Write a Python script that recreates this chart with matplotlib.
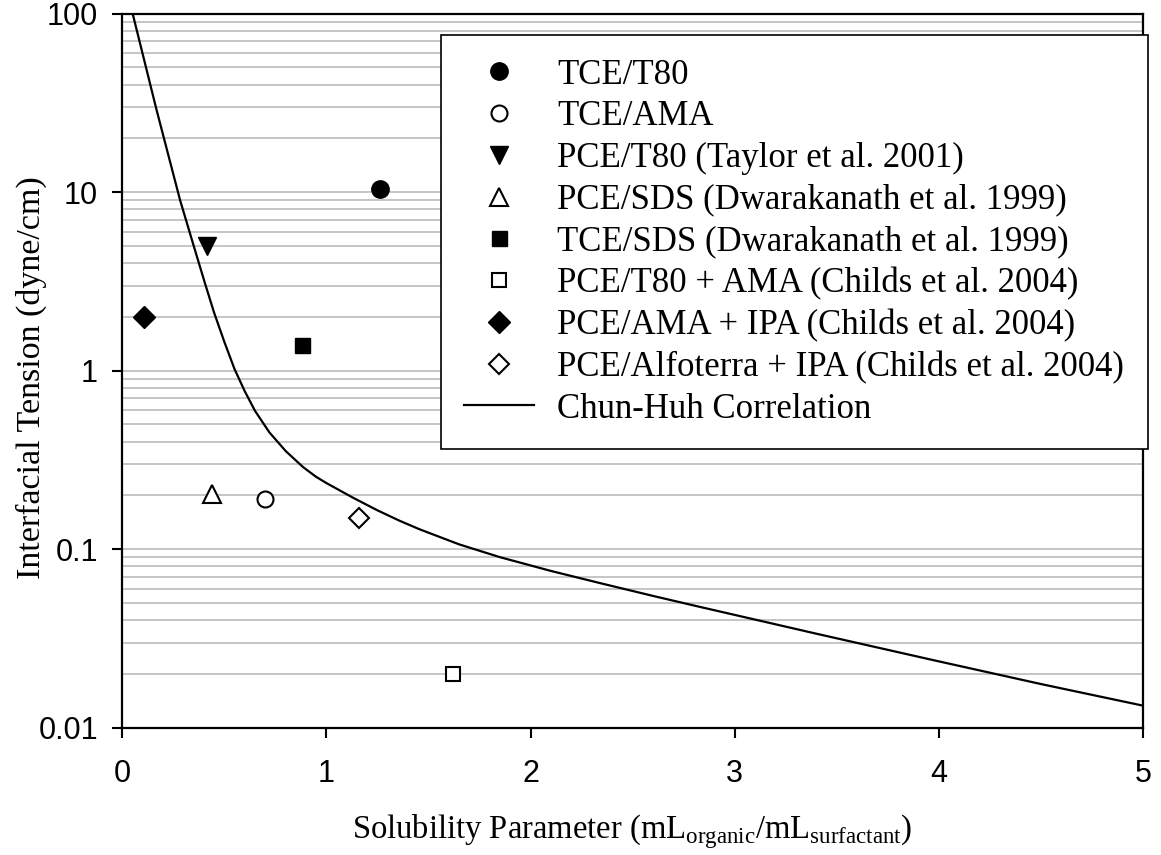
import matplotlib
matplotlib.use('Agg')
import matplotlib.pyplot as plt
from matplotlib.ticker import LogLocator, FixedLocator, FixedFormatter, NullFormatter, NullLocator

serif = 'Liberation Serif'
sans = 'Liberation Sans'

tce_t80_x, tce_t80_y = [1.26], [10.4]
tce_ama_x, tce_ama_y = [0.70], [0.19]
pce_t80_x, pce_t80_y = [0.413], [5.0]
pce_sds_x, pce_sds_y = [0.44], [0.205]
tce_sds_x, tce_sds_y = [0.88], [1.4]
pce_t80ama_x, pce_t80ama_y = [1.62], [0.02]
pce_amaipa_x, pce_amaipa_y = [0.105], [2.0]
pce_alfo_x, pce_alfo_y = [1.16], [0.15]

# Chun-Huh correlation, points
chun_x = [0.051, 0.168, 0.283, 0.35, 0.405, 0.45, 0.50, 0.55, 0.60, 0.65, 0.72,
          0.80, 0.886, 0.95, 1.0, 1.131, 1.25, 1.36, 1.458, 1.65, 1.85, 2.1, 2.339,
          2.6, 2.829, 3.4, 3.972, 4.5, 5.0]
chun_y = [100, 28.9, 9.04, 5.0, 3.09, 2.11, 1.45, 1.02, 0.767, 0.596, 0.452,
          0.355, 0.288, 0.254, 0.2346, 0.194, 0.165, 0.144, 0.129, 0.1064, 0.0902, 0.0755, 0.0646,
          0.0547, 0.0475, 0.0336, 0.0239, 0.01755, 0.01328]

labels = ['TCE/T80', 'TCE/AMA', 'PCE/T80 (Taylor et al. 2001)',
          'PCE/SDS (Dwarakanath et al. 1999)', 'TCE/SDS (Dwarakanath et al. 1999)',
          'PCE/T80 + AMA (Childs et al. 2004)', 'PCE/AMA + IPA (Childs et al. 2004)',
          'PCE/Alfoterra + IPA (Childs et al. 2004)', 'Chun-Huh Correlation']
ytick_vals = [0.01, 0.1, 1, 10, 100]
ytick_text = ['0.01', '0.1', '1', '10', '100']
xtick_vals = [0, 1, 2, 3, 4, 5]

plt.rcParams['mathtext.fontset'] = 'custom'
plt.rcParams['mathtext.rm'] = serif

fig = plt.figure(figsize=(11.61, 8.55), dpi=100)
ax = fig.add_axes([0.1053, 0.1489, 0.8794, 0.8351])

ax.plot(tce_t80_x, tce_t80_y, 'o', ms=12.5, color='black', label=labels[0], zorder=3)
ax.plot(tce_ama_x, tce_ama_y, 'o', ms=11.5, mfc='white', mec='black', mew=1.5, label=labels[1], zorder=3)
ax.plot(pce_t80_x, pce_t80_y, 'v', ms=13, color='black', label=labels[2], zorder=3)
ax.plot(pce_sds_x, pce_sds_y, '^', ms=12.5, mfc='white', mec='black', mew=1.5, label=labels[3], zorder=3)
ax.plot(tce_sds_x, tce_sds_y, 's', ms=10.8, color='black', label=labels[4], zorder=3)
ax.plot(pce_t80ama_x, pce_t80ama_y, 's', ms=9.4, mfc='white', mec='black', mew=1.5, label=labels[5], zorder=3)
ax.plot(pce_amaipa_x, pce_amaipa_y, 'D', ms=11, color='black', label=labels[6], zorder=3)
ax.plot(pce_alfo_x, pce_alfo_y, 'D', ms=10.5, mfc='white', mec='black', mew=1.5, label=labels[7], zorder=3)
ax.plot(chun_x, chun_y, '-', color='black', lw=1.6, label=labels[8], zorder=2)

ax.set_yscale('log')
ax.set_xlim(0, 5)
ax.set_ylim(0.01, 100)

ax.yaxis.set_major_locator(FixedLocator(ytick_vals))
ax.yaxis.set_major_formatter(FixedFormatter(ytick_text))
ax.yaxis.set_minor_locator(LogLocator(base=10, subs=range(2, 10)))
ax.yaxis.set_minor_formatter(NullFormatter())
ax.xaxis.set_major_locator(FixedLocator(xtick_vals))
ax.xaxis.set_minor_locator(NullLocator())

ax.grid(True, which='both', axis='y', color='#c0c0c0', lw=1.3, zorder=0)
ax.set_axisbelow(True)
ax.tick_params(axis='y', which='minor', length=0)
ax.tick_params(axis='both', which='major', direction='out', length=7.5, width=1.5,
               color='black', labelsize=22)
ax.tick_params(axis='y', which='major', pad=10)
ax.tick_params(axis='x', which='major', pad=15)
for lab in ax.get_xticklabels() + ax.get_yticklabels():
    lab.set_fontfamily(sans)
for sp in ax.spines.values():
    sp.set_linewidth(1.6)
    sp.set_color('black')

ax.set_ylabel('Interfacial Tension (dyne/cm)', fontsize=24.5, family=serif,
              va='center', ha='center')
ax.yaxis.set_label_coords(-0.0894, 0.49)
fig.text(0.5447, 1 - 838 / 855,
         r'Solubility Parameter (mL$_{\mathregular{organic}}$/mL$_{\mathregular{surfactant}}$)',
         fontsize=23.5, family=serif, ha='center', va='baseline')

leg = ax.legend(loc='upper left', bbox_to_anchor=(0.3119, 0.9702), borderaxespad=0,
                prop={'family': serif, 'size': 25}, frameon=True, fancybox=False,
                edgecolor='black', framealpha=1, handlelength=2.0, handletextpad=0.67,
                labelspacing=0.25, borderpad=0.68, numpoints=1)
leg.get_frame().set_linewidth(1.2)

fig.savefig('out.png', dpi=100)
